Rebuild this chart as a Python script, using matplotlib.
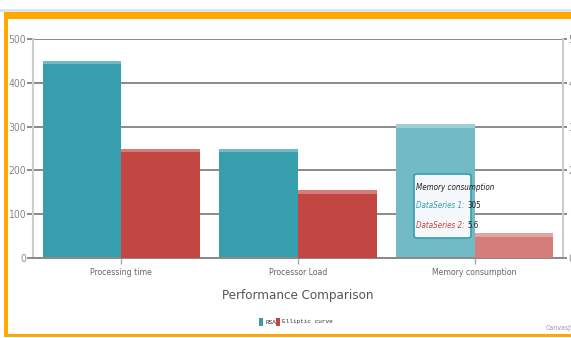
import matplotlib
matplotlib.use("Agg")
import matplotlib.pyplot as plt
from matplotlib.patches import Rectangle, FancyBboxPatch
from matplotlib import font_manager
import numpy as np

categories = ["Processing time", "Processor Load", "Memory consumption"]
rsa = [450, 250, 305]
elliptic = [25, 15.5, 5.6]
series_names = ["RSA", "Elliptic curve"]
title = "Performance Comparison"
left_ticks = [0, 100, 200, 300, 400, 500]
right_ticks = [0, 10, 20, 30, 40, 50]

# find a narrow font file if one exists
narrow_file = None
italic_file = None
for f in font_manager.fontManager.ttflist:
    fn = f.fname.lower()
    if ("narrow" in fn or "condensed" in fn) and "mono" not in fn and "serif" not in fn.replace("sans", ""):
        if "bold" in fn:
            continue
        if "italic" in fn or "oblique" in fn:
            if italic_file is None:
                italic_file = f.fname
        elif narrow_file is None:
            narrow_file = f.fname

def fp(size, italic=False):
    if italic and italic_file:
        return font_manager.FontProperties(fname=italic_file, size=size)
    if narrow_file:
        p = font_manager.FontProperties(fname=narrow_file, size=size)
        if italic:
            p.set_style("italic")
        return p
    return font_manager.FontProperties(family="DejaVu Sans", size=size * 0.85,
                                       style="italic" if italic else "normal")

W, H = 571, 338
fig = plt.figure(figsize=(W / 100, H / 100), dpi=100)
fig.patch.set_facecolor("white")

def fx(px):
    return px / W

def fy(py):
    return 1 - py / H

# frame decorations
fig.patches.append(Rectangle((0, fy(12)), 1, 3 / H, transform=fig.transFigure,
                             facecolor="#d9e6f2", edgecolor="none", zorder=0))
fig.patches.append(Rectangle((fx(4), fy(19)), 1, 7 / H, transform=fig.transFigure,
                             facecolor="#ffa800", edgecolor="none", zorder=0))
fig.patches.append(Rectangle((fx(4), fy(337)), 3.5 / W, (337 - 12) / H, transform=fig.transFigure,
                             facecolor="#ffa800", edgecolor="none", zorder=0))
fig.patches.append(Rectangle((fx(4), fy(337)), 1, 3 / H, transform=fig.transFigure,
                             facecolor="#ffa800", edgecolor="none", zorder=0))

ax_l, ax_r, ax_t, ax_b = 33, 563, 39, 258
ax = fig.add_axes([fx(ax_l), fy(ax_b), (ax_r - ax_l) / W, (ax_b - ax_t) / H])
ax2 = ax.twinx()

x = np.arange(len(categories))
w = 0.445
blue = "#369ead"
red = "#c24642"
blue_hi = "#72bac5"
red_hi = "#d57d79"
blue_cols = [blue, blue, blue_hi]
red_cols = [red, red, red_hi]

ax.bar(x - w / 2, rsa, width=w, color=blue_cols, edgecolor="none", zorder=3)
ax2.bar(x + w / 2, elliptic, width=w, color=red_cols, edgecolor="none", zorder=3)
# bevel highlight at bar tops
for i in range(len(categories)):
    ax.bar(x[i] - w / 2, 8, bottom=rsa[i] - 8, width=w,
           color="white", alpha=0.3, edgecolor="none", zorder=4)
    ax2.bar(x[i] + w / 2, 0.8, bottom=elliptic[i] - 0.8, width=w,
            color="white", alpha=0.3, edgecolor="none", zorder=4)

ax.set_xlim(-0.5, len(categories) - 0.5)
ax.set_ylim(0, 500)
ax2.set_ylim(0, 50)
ax.set_yticks(left_ticks)
ax2.set_yticks(right_ticks)
ax.grid(axis="y", color="#8a8a8a", linewidth=1.4, zorder=1)
ax.set_axisbelow(True)
ax.set_xticks(x)
ax.set_xticklabels(categories, color="#666666", fontproperties=fp(6.2))

for a in (ax, ax2):
    a.set_facecolor("none")
    a.spines["top"].set_visible(False)
    a.spines["left"].set_color("#cccccc")
    a.spines["right"].set_color("#cccccc")
    a.spines["left"].set_linewidth(1.5)
    a.spines["right"].set_linewidth(1.5)
    a.spines["bottom"].set_color("#8a8a8a")
    a.spines["bottom"].set_linewidth(1.4)
ax.patch.set_visible(False)
ax2.patch.set_visible(False)
ax2.spines["left"].set_visible(False)
ax.spines["right"].set_visible(False)

ax.tick_params(axis="y", length=4, width=1.4, color="#8a8a8a", labelcolor="#888888", pad=1)
ax2.tick_params(axis="y", length=3, width=1.4, color="#8a8a8a", labelcolor="#888888", pad=1)
ax.tick_params(axis="x", length=4, width=1, color="#aaaaaa", pad=3)
ax.set_yticklabels([str(v) for v in left_ticks], fontproperties=fp(7.5))
ax2.set_yticklabels([str(v) for v in right_ticks], fontproperties=fp(7.5))

ax.set_zorder(2)
ax2.set_zorder(3)

# title
fig.text(fx(298), fy(296), title, ha="center", va="center", color="#555555",
         fontproperties=fp(9.5))

# legend
ly = 322
fig.patches.append(Rectangle((fx(259), fy(ly + 4)), 4 / W, 8 / H, transform=fig.transFigure,
                             facecolor=blue, edgecolor="none"))
fig.text(fx(265), fy(ly), series_names[0], ha="left", va="center", fontsize=4.4,
         color="#333333", family="Liberation Mono")
fig.patches.append(Rectangle((fx(276), fy(ly + 4)), 4 / W, 8 / H, transform=fig.transFigure,
                             facecolor=red, edgecolor="none"))
fig.text(fx(282), fy(ly), series_names[1], ha="left", va="center", fontsize=4.4,
         color="#333333", family="Liberation Mono")

# credit
fig.text(fx(546), fy(328), "CanvasJS.com", ha="left", va="center", color="#999999",
         fontproperties=fp(5))

# tooltip
tb = FancyBboxPatch((fx(414), fy(238)), (471 - 414) / W, (238 - 174) / H,
                    boxstyle="round,pad=0,rounding_size=0.006",
                    transform=fig.transFigure, facecolor="#f4f8fa",
                    edgecolor="#369ead", linewidth=1.2, zorder=10)
fig.patches.append(tb)
fig.text(fx(416), fy(188), categories[2], ha="left", va="center",
         color="#222222", fontproperties=fp(5.8, italic=True), zorder=11)
t1 = fig.text(fx(416), fy(206), "DataSeries 1:", ha="left", va="center",
              color=blue, fontproperties=fp(5.8, italic=True), zorder=11)
fig.add_artist(plt.Annotation(f"{rsa[2]}", xy=(1.0, 0.5), xycoords=t1,
                              xytext=(2, 0), textcoords="offset points",
                              ha="left", va="center", color="#222222",
                              fontproperties=fp(5.8), zorder=11))
t2 = fig.text(fx(416), fy(225), "DataSeries 2:", ha="left", va="center",
              color=red, fontproperties=fp(5.8, italic=True), zorder=11)
fig.add_artist(plt.Annotation(f"{elliptic[2]}", xy=(1.0, 0.5), xycoords=t2,
                              xytext=(2, 0), textcoords="offset points",
                              ha="left", va="center", color="#222222",
                              fontproperties=fp(5.8), zorder=11))

fig.savefig("out.png", dpi=100)
